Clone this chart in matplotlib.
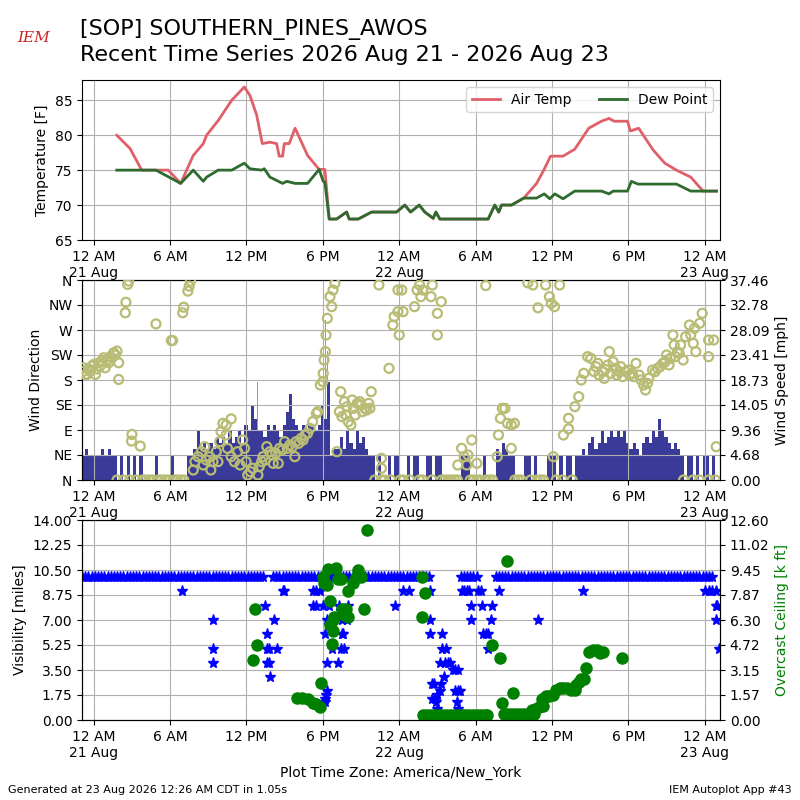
import numpy as np
import pandas as pd
import matplotlib
matplotlib.use("Agg")
import matplotlib.pyplot as plt

# hours are counted from 2026-08-21 00:00 America/New_York
BASE = pd.Timestamp("2026-08-21 00:00")

# --- temperature / dew point (F)
temp_h = [1.81, 2.85, 3.77, 4.89, 5.86, 6.83, 7.82, 8.61, 8.87, 9.78, 10.84, 11.83,
          12.27, 12.80, 13.24, 13.84, 14.37, 14.57, 14.84, 14.97, 15.36, 15.82, 16.80,
          17.71, 18.16, 18.50, 19.08, 19.87, 20.07, 20.78, 21.83, 23.79, 24.44, 24.89,
          25.57, 26.01, 26.67, 26.88, 27.19, 30.99, 31.51, 31.82, 32.04, 32.82, 33.79,
          34.79, 35.30, 35.89, 36.87, 37.79, 38.89, 39.89, 40.48, 40.88, 41.93, 42.16,
          42.81, 43.94, 44.86, 45.78, 46.90, 47.87, 48.92]
temp_f = [80, 78.1, 75, 75, 75, 73.1, 77.1, 78.8, 80, 82.1, 85, 86.9,
          85.7, 82.9, 78.8, 79, 78.8, 77, 77, 78.8, 78.8, 81, 77.1,
          75.1, 75.1, 68, 68, 69, 68, 68, 69, 69, 70, 69,
          70, 69, 68.1, 69, 68, 68, 70, 69, 70, 70, 71,
          73.1, 74.8, 77, 77, 78, 81, 82, 82.4, 82, 82, 80.6,
          81, 77.9, 76, 75, 74, 72, 72]
dwpt_h = [1.81, 4.89, 6.83, 7.82, 8.61, 8.87, 9.78, 10.84, 11.83, 12.27, 13.19, 13.40,
          13.84, 14.84, 15.16, 15.82, 16.80, 17.71, 18.03, 18.16, 18.50, 19.08, 19.87,
          20.07, 20.78, 21.83, 23.79, 24.44, 24.89, 25.57, 26.01, 26.67, 26.88, 27.19,
          30.99, 31.51, 31.82, 32.04, 32.82, 33.79, 34.79, 35.39, 35.83, 36.22, 36.87,
          37.79, 39.89, 40.48, 40.80, 41.93, 42.24, 42.76, 45.78, 46.90, 48.92]
dwpt_f = [75, 75, 73.1, 75, 73.4, 74, 75, 75, 76, 75.2, 75, 75.2,
          74, 73.1, 73.4, 73.1, 73.1, 75.1, 73.4, 73.3, 68, 68, 69,
          68, 68, 69, 69, 70, 69, 70, 69, 68.1, 69, 68,
          68, 70, 69, 70, 70, 71, 71, 71.6, 70.9, 71.6, 70.9,
          72, 72, 71.6, 72, 72, 73.4, 73, 73, 72, 72]

# --- wind: 15 minute observations starting 2026-08-20 23:05, speed in knots
speed_kt = [
    4, 5, 4, 4, 4, 4, 5, 4, 5, 4, 4, 0, 4, 0, 4, 0, 4, 0, 4, 0, 0, 0, 0, 4,
    0, 0, 0, 0, 4, 0, 0, 0, 0, 4, 4, 5, 8, 5, 6, 5, 6, 5, 7, 6, 7, 6, 8, 6,
    7, 8, 6, 9, 8, 12, 10, 8, 8, 7, 9, 8, 9, 8, 7, 9, 11, 14, 10, 9, 8, 9, 8, 9,
    9, 8, 9, 12, 10, 16, 4, 5, 5, 7, 5, 8, 6, 5, 8, 6, 7, 5, 4, 4, 0, 4, 0, 0,
    4, 0, 4, 4, 0, 0, 4, 0, 4, 4, 0, 0, 4, 4, 0, 4, 4, 0, 0, 0, 0, 0, 0, 4,
    4, 4, 0, 0, 0, 0, 4, 0, 0, 0, 5, 4, 6, 5, 4, 4, 0, 0, 0, 4, 4, 0, 4, 0,
    0, 0, 4, 4, 4, 0, 4, 0, 4, 4, 0, 4, 4, 5, 4, 6, 7, 5, 6, 8, 6, 7, 8, 7,
    8, 7, 8, 6, 5, 6, 5, 4, 6, 7, 6, 8, 7, 10, 8, 7, 6, 5, 6, 5, 4, 0, 4, 4,
    0, 4, 0, 4, 4, 0, 4, 0,
]
gust_h = [12.85, 18.20, 18.35]
gust_kt = [16, 26, 21]

dir_h = [-0.85, -0.79, -0.65, -0.53, -0.40, -0.27, -0.15, 0.00, 0.13, 0.25, 0.39, 0.50,
         0.65, 0.78, 0.91, 1.05, 1.18, 1.30, 1.44, 1.57, 1.70, 1.83, 1.96, 1.96,
         2.48, 2.53, 2.67, 2.75, 2.97, 3.00, 3.66, 4.89, 6.10, 6.20, 6.99, 7.07, 7.40, 7.50, 7.60,
         7.82, 7.95, 8.20, 8.46, 8.72, 8.85, 9.10, 9.37, 9.63, 9.76, 9.90, 10.00, 10.15,
         10.40, 10.80, 10.40, 10.50, 10.80, 11.05, 11.30, 11.70, 11.85, 11.97, 12.10, 12.50,
         12.90, 13.20, 13.30, 13.60, 13.85, 14.10, 14.50, 14.60, 15.00, 15.40, 15.80, 15.90,
         16.30, 16.60, 17.00, 17.20, 17.50, 17.60,
         8.60, 9.20, 11.50, 12.30, 13.00, 13.50, 14.00, 14.30, 14.80, 15.20, 15.60, 16.10,
         16.45, 16.80,
         17.80, 18.00, 18.03, 18.10, 18.20, 18.25, 18.35, 18.56, 18.70, 18.80, 18.95,
         19.10, 19.30, 19.40, 19.70, 19.80, 20.00, 20.20, 20.40, 20.70, 20.90, 21.10, 21.30,
         21.60, 21.70, 21.80, 19.50, 19.90, 20.30, 20.55, 21.00, 21.45,
         22.40, 22.60, 22.60, 23.20, 23.50, 23.60, 23.90, 23.90, 24.00, 24.20, 24.30,
         25.20, 25.40, 25.60, 25.70, 25.85, 26.50, 26.60, 27.00, 27.00, 27.30,
         28.60, 28.90, 29.10, 29.30, 29.40, 29.70, 30.10, 30.80,
         31.70, 31.80, 31.95, 32.10, 32.30, 32.50, 32.80, 32.80, 33.05,
         34.10, 34.50, 34.90, 35.50, 35.80, 35.95, 36.20, 36.60, 36.10,
         36.90, 37.30, 37.30, 37.80, 38.10, 38.30, 38.50, 38.80, 39.05, 39.45, 39.70, 40.00,
         40.10, 40.40, 40.50, 40.80, 41.00, 41.30, 41.55, 41.80, 42.10, 42.30, 42.60, 42.85,
         43.20, 43.35, 43.60, 43.90, 44.30, 44.70, 44.90, 45.30, 45.50, 45.60, 45.85, 46.10,
         46.30, 46.50, 46.80, 46.90, 47.10, 47.20, 47.30, 47.60, 47.80, 48.30, 48.30, 48.70,
         48.90,
         39.30, 39.60, 40.20, 40.60, 41.10, 41.40, 42.00, 42.40, 43.00, 43.50, 44.10, 44.50,
         45.00, 45.20, 45.70, 46.00]
dir_deg = [195, 202, 190, 190, 200, 196, 205, 208, 190, 200, 211, 205,
           214, 220, 202, 215, 211, 222, 220, 229, 225, 232, 211, 181,
           301, 320, 352, 358, 70, 82, 61, 281, 251, 251, 301, 311, 340, 349, 358,
           18, 33, 42, 51, 60, 36, 42, 33, 51, 33, 69, 87, 102,
           99, 110, 81, 57, 42, 33, 51, 72, 57, 33, 9, 21,
           9, 33, 42, 60, 51, 30, 30, 57, 69, 63, 42, 69,
           75, 81, 93, 105, 120, 123,
           27, 18, 27, 15, 24, 36, 45, 48, 54, 57, 60, 66,
           72, 84,
           171, 177, 192, 216, 231, 261, 291, 330, 312, 342, 354,
           51, 123, 159, 141, 117, 105, 99, 129, 138, 141, 123, 129,
           138, 129, 159, 114, 132, 144, 117, 135, 126,
           351, 39, 21, 201, 279, 294, 342, 303, 261, 342, 303,
           312, 342, 351, 330, 342, 330, 351, 300, 261, 321,
           27, 57, 42, 27, 45, 72, 30, 350,
           42, 81, 111, 129, 129, 102, 99, 57, 102,
           355, 351, 310, 351, 330, 318, 312, 351, 42,
           81, 92, 111, 132, 150, 180, 192, 222, 219, 204, 189, 195,
           183, 207, 231, 213, 201, 195, 186, 195, 189, 192, 210, 189,
           171, 162, 183, 198, 201, 210, 213, 219, 261, 243, 231, 243,
           216, 258, 279, 261, 246, 273, 231, 282, 300, 252, 222, 252,
           60,
           195, 210, 199, 192, 189, 204, 198, 186, 180, 174, 195, 204,
           225, 207, 222, 228]

# --- visibility (miles) on the same 15 minute grid, nan = missing
nan = np.nan
vis_grid = ([10] * 56 + [10, 10, nan, nan] + [10] * 48 + [10, 10, nan, nan]
            + [nan, nan, nan, nan] + [nan, nan, nan, 10] + [10, 10, 10, 10]
            + [10, nan, nan, nan] + [nan, nan, 10, 10] + [10] * 64 + [10, 10, 10, nan])
vis_h = [6.9, 9.35, 9.35, 9.37, 13.45, 13.6, 13.6, 13.75, 13.6, 13.75, 13.85, 14.2, 14.4,
         14.9, 14.95, 17.2, 17.5, 17.8, 17.2, 17.5, 18.0, 18.2, 18.3, 18.3, 18.25, 18.2,
         18.2, 18.3, 18.5, 18.7, 18.8, 19.2, 19.3, 19.5, 19.5, 19.6, 19.45, 19.7, 19.9,
         20.0, 23.65, 24.3,
         24.8, 26.4, 26.4, 26.45, 26.6, 26.7, 26.6, 26.8, 26.9, 27.0, 27.0, 27.2, 27.2,
         27.3, 27.4, 27.4, 27.5, 27.6, 27.7, 27.8, 28.0, 28.2, 28.4, 28.6, 28.4, 28.6,
         28.8, 28.5, 28.6, 28.9, 29.1, 29.3, 29.5, 29.6, 29.6, 30.2, 30.4, 30.5, 30.6,
         30.8, 31.0, 31.0, 31.2, 31.3, 31.8, 34.9, 38.4, 48.0, 48.3, 48.6, 48.9, 48.9,
         49.0, 48.9, 49.1]
vis_mi = [9, 7, 5, 4, 8, 6, 5, 5, 4, 4, 3, 7, 5,
          9, 9, 9, 9, 9, 8, 8, 8, 6, 4, 2, 1.75, 1.5,
          1.25, 7, 8, 5, 7, 4, 8, 6, 7, 6, 5, 5, 7,
          8, 8, 9,
          9, 9, 7, 6, 2.5, 2.5, 1.5, 1.5, 1.25, 0.75, 1.75, 4, 2,
          2.5, 6, 5, 3, 4, 5, 4, 4, 3.5, 3.5, 3.5, 2, 2,
          2, 1.25, 0.75, 9, 9, 9, 9, 8, 7, 9, 9, 8, 6,
          6, 5, 6, 7, 8, 9, 7, 9, 9, 9, 9, 9, 8,
          8, 7, 5]

# --- overcast ceiling (thousand ft)
ceil_h = [12.5, 12.67, 12.8, 16.0, 16.4, 16.8, 17.2, 17.5, 17.8, 17.85, 18.0, 18.1, 18.3,
          18.4, 18.55, 18.56, 18.7, 18.8, 18.8, 18.9, 19.0, 19.2, 19.4, 19.5, 19.7, 19.8,
          20.0, 20.0, 20.4, 20.6, 20.8, 21.0, 21.2, 21.43,
          25.8, 26.0, 25.8, 25.9, 26.2, 26.5, 26.8, 27.1, 27.4, 27.7, 28.0, 28.3, 28.6,
          28.9, 29.2, 29.5, 29.8, 30.1, 30.4, 30.7, 30.9, 31.3, 31.9, 32.1, 32.5, 32.9,
          32.2, 32.5, 32.8, 33.1, 33.4, 33.7, 34.0, 34.3, 34.6, 34.4, 34.7, 35.0, 35.3,
          35.2, 35.5, 35.8, 36.1, 36.3, 36.6, 36.9, 37.2, 37.5, 37.8, 37.9, 38.1, 38.3,
          38.5, 38.7, 38.9, 39.2, 39.5, 39.8, 40.0, 41.5]
ceil_kft = [3.8, 7.0, 4.75, 1.4, 1.4, 1.3, 1.1, 1.0, 0.8, 2.35, 9.0, 8.6, 8.5,
            9.5, 7.5, 6.0, 4.8, 6.3, 5.6, 6.5, 9.6, 8.9, 8.9, 7.0, 6.6, 7.0,
            8.1, 6.5, 8.6, 9.0, 9.45, 9.0, 7.0, 12.0,
            9.0, 8.0, 6.5, 0.3, 0.3, 0.3, 0.3, 0.3, 0.3, 0.3, 0.3, 0.3, 0.3,
            0.3, 0.3, 0.3, 0.3, 0.3, 0.3, 0.3, 0.3, 4.7, 3.9, 1.1, 10.0, 1.7,
            0.4, 0.4, 0.4, 0.4, 0.4, 0.4, 0.4, 0.4, 0.4, 0.6, 0.7, 0.8, 0.9,
            1.3, 1.5, 1.5, 1.6, 1.9, 2.0, 2.0, 2.0, 1.9, 1.9, 2.2, 2.4, 2.6,
            2.6, 3.25, 4.3, 4.4, 4.4, 4.2, 4.3, 3.9]

tick_h = [0, 6, 12, 18, 24, 30, 36, 42, 48]
tick_labels = ["12 AM\n21 Aug", "6 AM", "12 PM", "6 PM", "12 AM\n22 Aug",
               "6 AM", "12 PM", "6 PM", "12 AM\n23 Aug"]
dir_labels = ["N", "NE", "E", "SE", "S", "SW", "W", "NW", "N"]
speed_labels = ["0.00", "4.68", "9.36", "14.05", "18.73", "23.41", "28.09", "32.78", "37.46"]
vis_labels = ["0.00", "1.75", "3.50", "5.25", "7.00", "8.75", "10.50", "12.25", "14.00"]
ceil_labels = ["0.00", "1.57", "3.15", "4.72", "6.30", "7.87", "9.45", "11.02", "12.60"]


def to_time(hours):
    return BASE + pd.to_timedelta(np.asarray(hours, dtype=float), unit="h")


KT2MPH = 1.15078
wind_t = pd.date_range("2026-08-20 23:05", periods=len(speed_kt), freq="15min")
speed = np.array(speed_kt) * KT2MPH
calm_t = wind_t[np.array(speed_kt) == 0]

fig = plt.figure(figsize=(8, 8), dpi=100)
xlim = (to_time(-0.92), to_time(49.2))


def time_axis(ax):
    ax.set_xlim(*xlim)
    ax.set_xticks(to_time(tick_h))
    ax.set_xticklabels(tick_labels)


# temperatures
ax1 = fig.add_axes([0.1025, 0.70, 0.7975, 0.20])
ax1.plot(to_time(temp_h), temp_f, color="#e0606a", lw=2, label="Air Temp")
ax1.plot(to_time(dwpt_h), dwpt_f, color="#2e6b2e", lw=2, label="Dew Point")
ax1.set_ylim(65, 87.9)
ax1.set_yticks([65, 70, 75, 80, 85])
ax1.set_ylabel("Temperature [F]")
ax1.grid(True)
ax1.legend(loc="upper right", ncol=2)
time_axis(ax1)

# wind
ax2 = fig.add_axes([0.1025, 0.40, 0.7975, 0.25])
ax2b = ax2.twinx()
ax2b.bar(to_time(gust_h), np.array(gust_kt) * KT2MPH, width=4 / 1440, color="#8c8cff")
ax2b.bar(wind_t, speed, width=15 / 1440, align="edge", color="#3a3a98")
ax2b.set_ylim(0, 37.46)
ax2b.set_yticks(np.linspace(0, 37.46, 9))
ax2b.set_yticklabels(speed_labels)
ax2b.set_ylabel("Wind Speed [mph]")
ax2.scatter(to_time(dir_h), dir_deg, s=42, facecolors="none", edgecolors="#b8bc74",
            linewidths=1.6, zorder=3)
ax2.scatter(calm_t, np.zeros(len(calm_t)), s=42, facecolors="none", edgecolors="#b8bc74",
            linewidths=1.6, zorder=3)
ax2.set_ylim(0, 360)
ax2.set_yticks(np.arange(0, 361, 45))
ax2.set_yticklabels(dir_labels)
ax2.set_ylabel("Wind Direction")
ax2.grid(True)
ax2.set_zorder(ax2b.get_zorder() + 1)
ax2.patch.set_visible(False)
time_axis(ax2)

# visibility and ceiling
ax3 = fig.add_axes([0.1025, 0.10, 0.7975, 0.25])
ax3.plot(wind_t, vis_grid, "*", color="b", ms=8, ls="none")
ax3.plot(to_time(vis_h), vis_mi, "*", color="b", ms=8, ls="none")
ax3.set_ylim(0, 14)
ax3.set_yticks(np.linspace(0, 14, 9))
ax3.set_yticklabels(vis_labels)
ax3.set_ylabel("Visibility [miles]")
ax3.grid(True)
time_axis(ax3)
ax3b = ax3.twinx()
ax3b.plot(to_time(ceil_h), ceil_kft, "o", color="g", ms=8, ls="none")
ax3b.set_ylim(0, 12.6)
ax3b.set_yticks(np.linspace(0, 12.6, 9))
ax3b.set_yticklabels(ceil_labels)
ax3b.set_ylabel("Overcast Ceiling [k ft]", color="g")
ax3.set_xlabel("Plot Time Zone: America/New_York")

fig.text(0.1, 0.9625, "[SOP] SOUTHERN_PINES_AWOS", fontsize=16, va="center")
fig.text(0.1, 0.931, "Recent Time Series 2026 Aug 21 - 2026 Aug 23", fontsize=16, va="center")
fig.text(0.042, 0.953, "IEM", fontsize=11, color="#cc2222", style="italic",
         family="DejaVu Serif", ha="center", va="center")
fig.text(0.01, 0.0125, "Generated at 23 Aug 2026 12:26 AM CDT in 1.05s", fontsize=8, va="center")
fig.text(0.99, 0.0125, "IEM Autoplot App #43", fontsize=8, ha="right", va="center")

fig.savefig("out.png", dpi=100)
